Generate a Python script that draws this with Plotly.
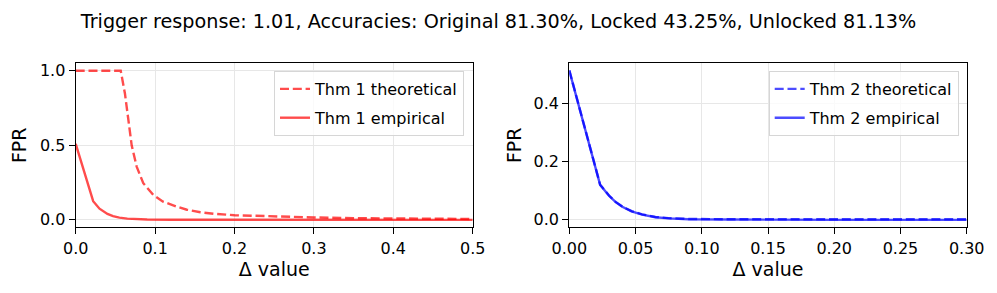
import plotly.graph_objects as go

# ---- data ----
thm1_theo_x = [0, 0.02, 0.04, 0.0567, 0.062, 0.0663, 0.0705, 0.0768, 0.0851, 0.0977,
               0.11, 0.127, 0.14, 0.157, 0.175, 0.2, 0.25, 0.3, 0.35, 0.4, 0.45, 0.5]
thm1_theo_y = [1.0, 1.0, 1.0, 1.0, 0.848, 0.67, 0.50, 0.357, 0.246, 0.167,
               0.122, 0.089, 0.068, 0.051, 0.040, 0.031, 0.022, 0.016, 0.011, 0.008, 0.007, 0.006]
thm1_emp_x = [0, 0.011, 0.022, 0.03, 0.035, 0.04, 0.047, 0.055, 0.065, 0.075, 0.09, 0.12,
              0.2, 0.3, 0.4, 0.5]
thm1_emp_y = [0.51, 0.31, 0.125, 0.075, 0.055, 0.04, 0.025, 0.015, 0.008, 0.004, 0.002, 0.001,
              0.0, 0.0, 0.0, 0.0]

thm2_x = [0, 0.0233, 0.03, 0.035, 0.04, 0.047, 0.055, 0.065, 0.075, 0.09, 0.12,
          0.15, 0.2, 0.25, 0.3]
thm2_theo_y = [0.516, 0.121, 0.084, 0.062, 0.046, 0.030, 0.019, 0.010, 0.006, 0.003, 0.002,
               0.002, 0.002, 0.002, 0.002]
thm2_emp_y = [0.515, 0.120, 0.083, 0.061, 0.045, 0.029, 0.018, 0.009, 0.005, 0.002, 0.001,
              0.0, 0.0, 0.0, 0.0]

left_xticks = [0.0, 0.1, 0.2, 0.3, 0.4, 0.5]
left_yticks = [0.0, 0.5, 1.0]
right_xticks = [0.0, 0.05, 0.10, 0.15, 0.20, 0.25, 0.30]
right_yticks = [0.0, 0.2, 0.4]

title_text = "Trigger response: 1.01, Accuracies: Original 81.30%, Locked 43.25%, Unlocked 81.13%"

RED = "rgba(255,0,0,0.7)"
BLUE = "rgba(0,0,255,0.7)"
FONT = "DejaVu Sans"
DASH = "9px,3.8px"

fig = go.Figure()
fig.add_trace(go.Scatter(x=thm1_theo_x, y=thm1_theo_y, mode="lines", name="Thm 1 theoretical",
                         line=dict(color=RED, width=2.4, dash=DASH), xaxis="x", yaxis="y",
                         legend="legend", legendgroup="a"))
fig.add_trace(go.Scatter(x=thm1_emp_x, y=thm1_emp_y, mode="lines", name="Thm 1 empirical",
                         line=dict(color=RED, width=2.4), xaxis="x", yaxis="y",
                         legend="legend", legendgroup="b"))
fig.add_trace(go.Scatter(x=thm2_x, y=thm2_theo_y, mode="lines", name="Thm 2 theoretical",
                         line=dict(color=BLUE, width=2.4, dash=DASH), xaxis="x2", yaxis="y2",
                         legend="legend2", legendgroup="c"))
fig.add_trace(go.Scatter(x=thm2_x, y=thm2_emp_y, mode="lines", name="Thm 2 empirical",
                         line=dict(color=BLUE, width=2.4), xaxis="x2", yaxis="y2",
                         legend="legend2", legendgroup="d"))

W, H = 997, 293
def px(x): return x / W
def py(y): return 1 - y / H

axis_common = dict(showline=True, linecolor="black", linewidth=1.3, mirror=True,
                   ticks="outside", ticklen=6, tickwidth=1.3, tickcolor="black",
                   showgrid=True, gridcolor="#e7e7e7", gridwidth=1.3,
                   zeroline=False, tickfont=dict(family=FONT, size=16, color="black"),
                   automargin=False)

legend_common = dict(xanchor="right", yanchor="top",
                     bgcolor="rgba(255,255,255,0.8)", bordercolor="#d6d6d6", borderwidth=1,
                     font=dict(family=FONT, size=16, color="black"), tracegroupgap=5,
                     itemwidth=30)

fig.update_layout(
    width=W, height=H,
    margin=dict(l=0, r=0, t=0, b=0),
    paper_bgcolor="white", plot_bgcolor="white",
    font=dict(family=FONT, color="black"),
    title=dict(text=title_text, x=0.5, xanchor="center", y=py(21), yanchor="middle",
               font=dict(family=FONT, size=19.2, color="black")),
    xaxis=dict(domain=[px(75.7), px(472.7)], range=[0, 0.5], tickvals=left_xticks,
               ticktext=[f"{v:.1f}" for v in left_xticks], anchor="y",
               title=dict(text="Δ value", standoff=3, font=dict(family=FONT, size=19)),
               **axis_common),
    yaxis=dict(domain=[py(227.3), py(63.3)], range=[-0.05, 1.05], tickvals=left_yticks,
               ticktext=[f"{v:.1f}" for v in left_yticks], anchor="x",
               title=dict(text="FPR", standoff=8, font=dict(family=FONT, size=19)),
               **axis_common),
    xaxis2=dict(domain=[px(569.3), px(966.7)], range=[0, 0.3], tickvals=right_xticks,
                ticktext=[f"{v:.2f}" for v in right_xticks], anchor="y2",
                title=dict(text="Δ value", standoff=3, font=dict(family=FONT, size=19)),
                **axis_common),
    yaxis2=dict(domain=[py(227.3), py(63.3)], range=[-0.0257, 0.540], tickvals=right_yticks,
                ticktext=[f"{v:.1f}" for v in right_yticks], anchor="x2",
                title=dict(text="FPR", standoff=6, font=dict(family=FONT, size=19)),
                **axis_common),
    legend=dict(x=px(464), y=py(71), **legend_common),
    legend2=dict(x=px(958.7), y=py(71), **legend_common),
    showlegend=True,
)

fig.write_html("out.html", config={"displayModeBar": False},
               post_script="document.body.style.margin='0';")
